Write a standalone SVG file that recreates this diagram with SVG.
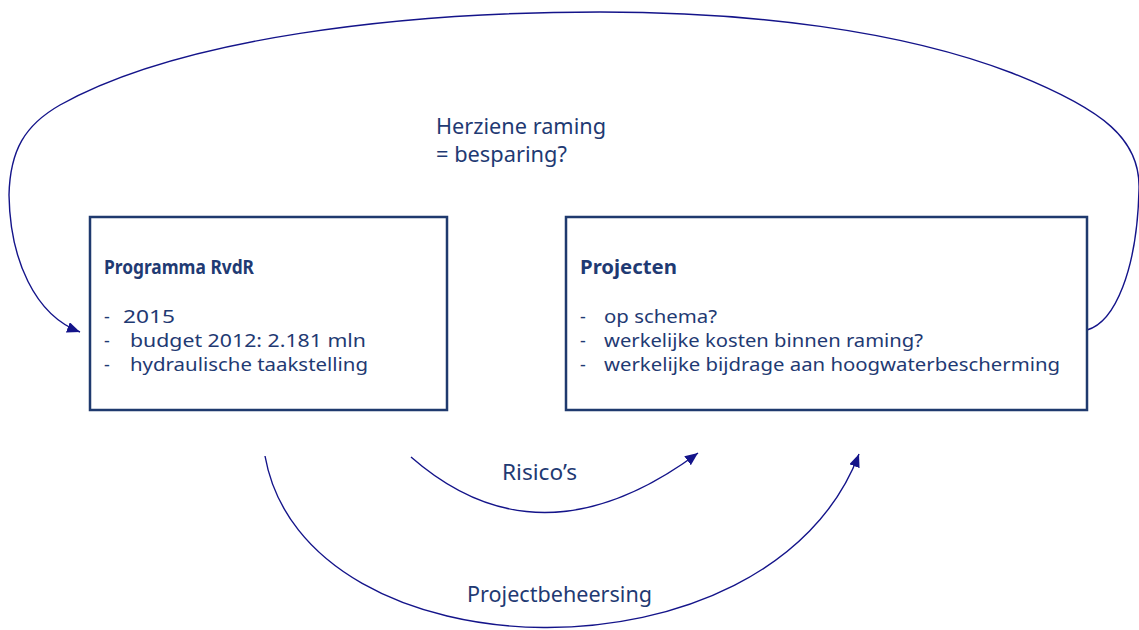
<svg xmlns="http://www.w3.org/2000/svg" width="1139" height="630" viewBox="0 0 1139 630">
<defs>
<style>
text{font-family:"Noto Sans","Open Sans","DejaVu Sans",sans-serif;fill:#1f3a73;}
.t{font-size:18px;}
.b{font-size:19.5px;font-weight:bold;}
.l{font-size:21px;}
.box{fill:#fff;stroke:#1f3a6e;stroke-width:2.5;}
.c{fill:none;stroke:#14148a;stroke-width:1.4;}
</style>
<marker id="ah" markerUnits="userSpaceOnUse" markerWidth="14" markerHeight="12" refX="13" refY="5.5" orient="auto">
<path d="M0,0 L13,5.5 L0,11 z" fill="#14148a"/>
</marker>
</defs>
<rect width="1139" height="630" fill="#fff"/>
<g id="connectors">
<path class="c" marker-end="url(#ah)" d="M1087,330 C1115,322 1137,270 1139,190 C1141,140 1105,110 1012,73 C900,30 750,12 600,12 C400,12 180,38 60,105 C25,125 10,150 9,195 C10,260 35,315 80,332"/>
<path class="c" marker-end="url(#ah)" d="M411,457 Q540,570 698,453"/>
<path class="c" marker-end="url(#ah)" d="M265,456 C305,680 770,690 859,454"/>
</g>
<g id="label-herziene">
<text class="l" x="436" y="134" textLength="170" lengthAdjust="spacingAndGlyphs">Herziene raming</text>
<text class="l" x="436" y="162" textLength="131" lengthAdjust="spacingAndGlyphs">= besparing?</text>
</g>
<g id="programma">
<rect class="box" x="90" y="217" width="357" height="193"/>
<text class="b" x="104" y="274" textLength="150" lengthAdjust="spacingAndGlyphs">Programma RvdR</text>
<text class="t" y="323"><tspan x="104">-</tspan><tspan x="123" textLength="52" lengthAdjust="spacingAndGlyphs">2015</tspan></text>
<text class="t" y="347"><tspan x="104">-</tspan><tspan x="130" textLength="236" lengthAdjust="spacingAndGlyphs">budget 2012: 2.181 mln</tspan></text>
<text class="t" y="371"><tspan x="104">-</tspan><tspan x="130" textLength="238" lengthAdjust="spacingAndGlyphs">hydraulische taakstelling</tspan></text>
</g>
<g id="projecten">
<rect class="box" x="566" y="217" width="521" height="193"/>
<text class="b" x="580" y="274" textLength="97" lengthAdjust="spacingAndGlyphs">Projecten</text>
<text class="t" y="323"><tspan x="580">-</tspan><tspan x="604" textLength="113" lengthAdjust="spacingAndGlyphs">op schema?</tspan></text>
<text class="t" y="347"><tspan x="580">-</tspan><tspan x="604" textLength="319" lengthAdjust="spacingAndGlyphs">werkelijke kosten binnen raming?</tspan></text>
<text class="t" y="371"><tspan x="580">-</tspan><tspan x="604" textLength="456" lengthAdjust="spacingAndGlyphs">werkelijke bijdrage aan hoogwaterbescherming</tspan></text>
</g>
<g id="label-risicos">
<text class="l" x="502" y="480" textLength="75" lengthAdjust="spacingAndGlyphs">Risico’s</text>
</g>
<g id="label-projectbeheersing">
<text class="l" x="467" y="602" textLength="185" lengthAdjust="spacingAndGlyphs">Projectbeheersing</text>
</g>
</svg>
